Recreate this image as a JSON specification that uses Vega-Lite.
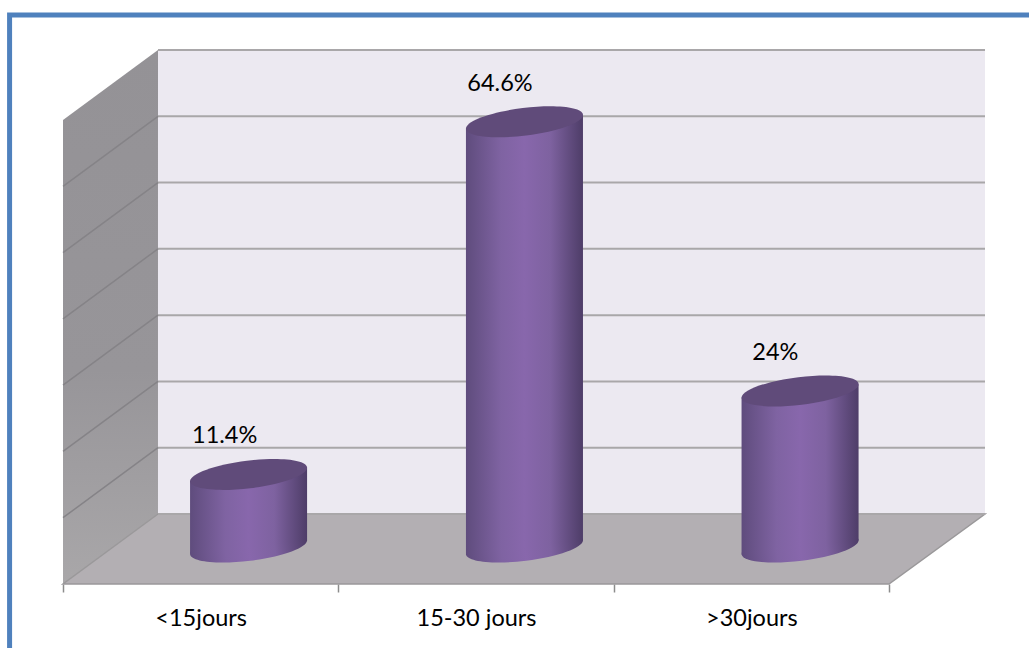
{
  "$schema": "https://vega.github.io/schema/vega-lite/v6.json",
  "autosize": "none",
  "width": 922,
  "height": 534,
  "padding": {"left": 63, "top": 50, "right": 44, "bottom": 64},
  "background": "white",
  "config": {"view": {"stroke": null}},
  "datasets": {
    "durations": [
      {"duree": "<15jours", "value": 11.4, "label": "11.4%", "pos": 0.674},
      {"duree": "15-30 jours", "value": 64.6, "label": "64.6%", "pos": 1.676},
      {"duree": ">30jours", "value": 24, "label": "24%", "pos": 2.677}
    ],
    "bodies": [
      {"duree": "<15jours", "pos": 0.4615, "top": 10.4, "base": -0.55},
      {"duree": "<15jours", "pos": 0.674, "top": 11.4, "base": 0.45},
      {"duree": "<15jours", "pos": 0.8865, "top": 12.4, "base": 1.45},
      {"duree": "15-30 jours", "pos": 1.4635, "top": 63.6, "base": -0.55},
      {"duree": "15-30 jours", "pos": 1.676, "top": 64.6, "base": 0.45},
      {"duree": "15-30 jours", "pos": 1.8885, "top": 65.6, "base": 1.45},
      {"duree": ">30jours", "pos": 2.4645, "top": 23, "base": -0.55},
      {"duree": ">30jours", "pos": 2.677, "top": 24, "base": 0.45},
      {"duree": ">30jours", "pos": 2.8895, "top": 25, "base": 1.45}
    ],
    "sideWall": [
      {"depth": 0, "low": -5.13, "high": 64.87},
      {"depth": 0.345, "low": 5.43, "high": 75.43}
    ],
    "floor": [
      {"level": -5.13, "from": 0, "to": 3},
      {"level": 5.43, "from": 0.345, "to": 3.3487}
    ],
    "backGrid": [
      {"level": 5.43}, {"level": 15.43}, {"level": 25.43}, {"level": 35.43},
      {"level": 45.43}, {"level": 55.43}, {"level": 65.43}, {"level": 75.43}
    ],
    "sideGrid": [
      {"tick": 10, "depth": 0, "level": 4.87}, {"tick": 10, "depth": 0.345, "level": 15.43},
      {"tick": 20, "depth": 0, "level": 14.87}, {"tick": 20, "depth": 0.345, "level": 25.43},
      {"tick": 30, "depth": 0, "level": 24.87}, {"tick": 30, "depth": 0.345, "level": 35.43},
      {"tick": 40, "depth": 0, "level": 34.87}, {"tick": 40, "depth": 0.345, "level": 45.43},
      {"tick": 50, "depth": 0, "level": 44.87}, {"tick": 50, "depth": 0.345, "level": 55.43},
      {"tick": 60, "depth": 0, "level": 54.87}, {"tick": 60, "depth": 0.345, "level": 65.43}
    ]
  },
  "resolve": {"scale": {"x": "independent"}},
  "layer": [
    {
      "layer": [
        {
          "description": "Blue frame, running off the right and bottom of the page",
          "data": {"values": [{}]},
          "mark": {"type": "rect", "fill": null, "stroke": "#4f81bd", "strokeWidth": 5},
          "encoding": {
            "x": {
              "datum": -0.194,
              "type": "quantitative",
              "scale": {"domain": [0, 3.3487], "nice": false, "zero": false},
              "axis": null
            },
            "x2": {"datum": 3.56},
            "y": {
              "datum": 80.7,
              "type": "quantitative",
              "scale": {"domain": [-5.13, 75.43], "nice": false, "zero": false},
              "axis": null
            },
            "y2": {"datum": -16.6}
          }
        },
        {
          "description": "Back wall",
          "data": {"values": [{}]},
          "mark": {"type": "rect", "fill": "#ece9f1"},
          "encoding": {
            "x": {"datum": 0.345, "type": "quantitative"},
            "x2": {"datum": 3.3487},
            "y": {"datum": 5.43, "type": "quantitative"},
            "y2": {"datum": 75.43}
          }
        },
        {
          "description": "Side wall",
          "data": {"name": "sideWall"},
          "mark": {
            "type": "area",
            "orient": "vertical",
            "fill": {
              "gradient": "linear", "x1": 0, "x2": 0, "y1": 0, "y2": 1,
              "stops": [
                {"offset": 0, "color": "#949296"},
                {"offset": 0.6, "color": "#979599"},
                {"offset": 1, "color": "#a9a7a9"}
              ]
            }
          },
          "encoding": {
            "x": {"field": "depth", "type": "quantitative"},
            "y": {"field": "low", "type": "quantitative"},
            "y2": {"field": "high"}
          }
        },
        {
          "description": "Floor",
          "data": {"name": "floor"},
          "mark": {"type": "area", "fill": "#b3afb3", "stroke": "#9a989a", "strokeWidth": 1.5, "orient": "horizontal"},
          "encoding": {
            "y": {"field": "level", "type": "quantitative"},
            "x": {"field": "from", "type": "quantitative"},
            "x2": {"field": "to"}
          }
        },
        {
          "description": "Gridlines across the back wall",
          "data": {"name": "backGrid"},
          "mark": {"type": "rule", "stroke": "#a9a7a9", "strokeWidth": 2},
          "encoding": {
            "x": {"datum": 0.345, "type": "quantitative"},
            "x2": {"datum": 3.3487},
            "y": {"field": "level", "type": "quantitative"}
          }
        },
        {
          "description": "Gridlines across the side wall",
          "data": {"name": "sideGrid"},
          "mark": {"type": "line", "stroke": "#858387", "strokeWidth": 1.5},
          "encoding": {
            "x": {"field": "depth", "type": "quantitative"},
            "y": {"field": "level", "type": "quantitative"},
            "detail": {"field": "tick"}
          }
        },
        {
          "description": "Rounded foot of each cylinder",
          "data": {"name": "durations"},
          "mark": {
            "type": "point",
            "filled": true,
            "opacity": 1,
            "shape": "M-1,0A1,0.235,0,1,1,1,0A1,0.235,0,1,1,-1,0Z",
            "size": 13900,
            "angle": -7,
            "fill": {
              "gradient": "linear", "x1": 0, "x2": 1, "y1": 0, "y2": 0,
              "stops": [
                {"offset": 0, "color": "#5f4c7d"},
                {"offset": 0.3, "color": "#7f63a2"},
                {"offset": 0.5, "color": "#8867ac"},
                {"offset": 0.72, "color": "#7e62a0"},
                {"offset": 1, "color": "#4e3d68"}
              ]
            }
          },
          "encoding": {
            "x": {"field": "pos", "type": "quantitative"},
            "y": {"datum": 0.45, "type": "quantitative"}
          }
        },
        {
          "description": "Shaded side of each cylinder",
          "data": {"name": "bodies"},
          "mark": {
            "type": "area",
            "orient": "vertical",
            "fill": {
              "gradient": "linear", "x1": 0, "x2": 1, "y1": 0, "y2": 0,
              "stops": [
                {"offset": 0, "color": "#5f4c7d"},
                {"offset": 0.3, "color": "#7f63a2"},
                {"offset": 0.5, "color": "#8867ac"},
                {"offset": 0.72, "color": "#7e62a0"},
                {"offset": 1, "color": "#4e3d68"}
              ]
            }
          },
          "encoding": {
            "x": {"field": "pos", "type": "quantitative"},
            "y": {"field": "top", "type": "quantitative"},
            "y2": {"field": "base"},
            "detail": {"field": "duree"}
          }
        },
        {
          "description": "Dark top of each cylinder, centred on its value",
          "data": {"name": "durations"},
          "mark": {
            "type": "point",
            "filled": true,
            "opacity": 1,
            "shape": "M-1,0A1,0.235,0,1,1,1,0A1,0.235,0,1,1,-1,0Z",
            "size": 13900,
            "angle": -7,
            "fill": "#604b7a"
          },
          "encoding": {
            "x": {"field": "pos", "type": "quantitative"},
            "y": {"field": "value", "type": "quantitative"}
          }
        }
      ]
    },
    {
      "description": "Value labels, with the category axis beneath the floor",
      "data": {"name": "durations"},
      "mark": {
        "type": "text",
        "font": "Lato",
        "fontSize": 23.5,
        "color": "#000000",
        "xOffset": 24,
        "dy": -38
      },
      "encoding": {
        "x": {
          "field": "duree",
          "type": "nominal",
          "sort": null,
          "scale": {"range": [0, 826], "paddingInner": 0, "paddingOuter": 0},
          "axis": {
            "orient": "bottom",
            "title": null,
            "domain": false,
            "grid": false,
            "labelAngle": 0,
            "labelFont": "Lato",
            "labelFontSize": 23.5,
            "labelColor": "#000000",
            "labelPadding": 14,
            "tickBand": "extent",
            "tickColor": "#8c8c8c",
            "tickWidth": 1.5,
            "tickSize": 8
          }
        },
        "y": {"field": "value", "type": "quantitative"},
        "text": {"field": "label"}
      }
    }
  ]
}
